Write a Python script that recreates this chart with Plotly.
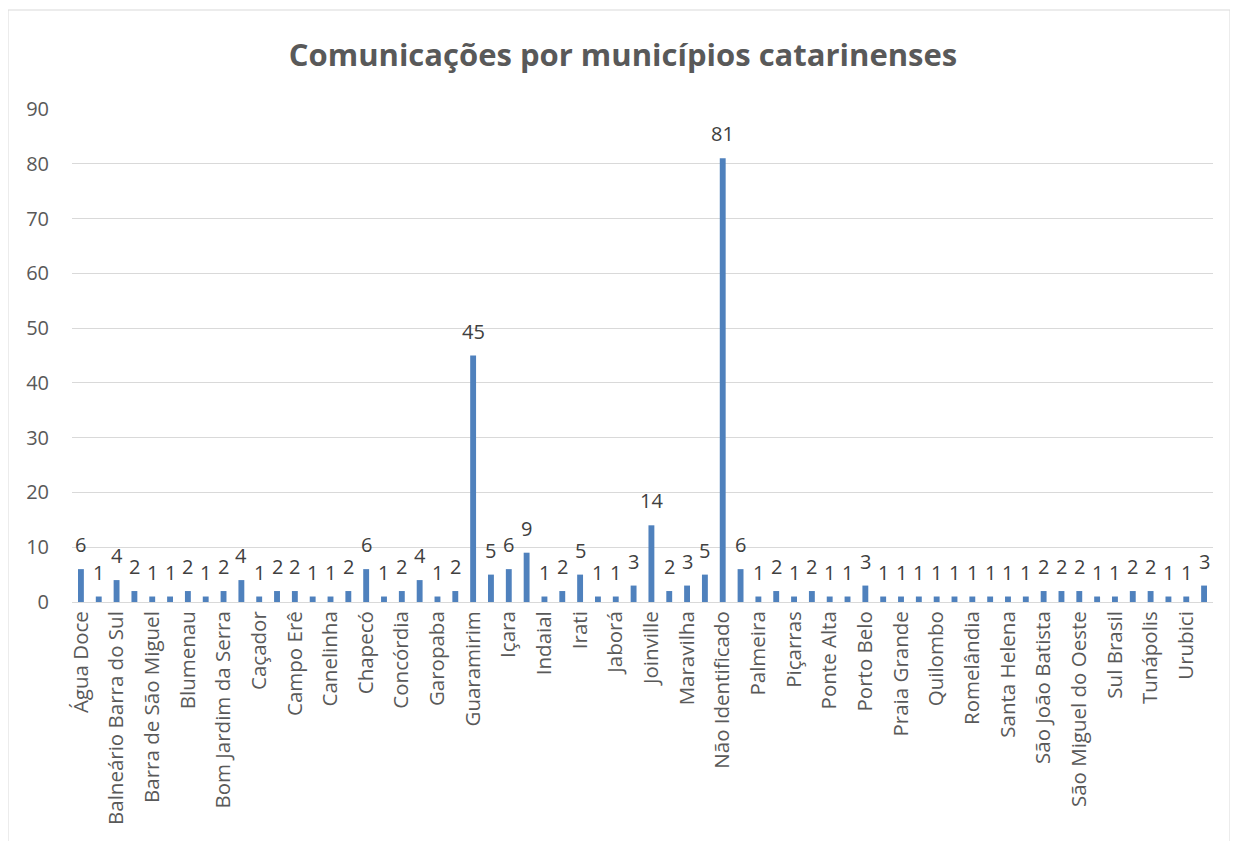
import plotly.graph_objects as go

municipios = [
    "Água Doce", "Araquari", "Balneário Barra do Sul", "Balneário Camboriú",
    "Barra de São Miguel", "Biguaçu", "Blumenau", "Bocaina do Sul",
    "Bom Jardim da Serra", "Brusque", "Caçador", "Camboriú",
    "Campo Erê", "Campos Novos", "Canelinha", "Capinzal",
    "Chapecó", "Cocal do Sul", "Concórdia", "Criciúma",
    "Garopaba", "Gaspar", "Guaramirim", "Herval d'Oeste",
    "Içara", "Imbituba", "Indaial", "Ipumirim",
    "Irati", "Itajaí", "Jaborá", "Jaraguá do Sul",
    "Joinville", "Lages", "Maravilha", "Modelo",
    "Não Identificado", "Navegantes", "Palmeira", "Penha",
    "Piçarras", "Pinhalzinho", "Ponte Alta", "Ponte Serrada",
    "Porto Belo", "Pouso Redondo", "Praia Grande", "Presidente Getúlio",
    "Quilombo", "Rio do Sul", "Romelândia", "Santa Cecília",
    "Santa Helena", "São Bento do Sul", "São João Batista", "São José",
    "São Miguel do Oeste", "Seara", "Sul Brasil", "Timbó",
    "Tunápolis", "Turvo", "Urubici", "Xanxerê",
]

comunicacoes = [
    6, 1, 4, 2, 1, 1, 2, 1,
    2, 4, 1, 2, 2, 1, 1, 2,
    6, 1, 2, 4, 1, 2, 45, 5,
    6, 9, 1, 2, 5, 1, 1, 3,
    14, 2, 3, 5, 81, 6, 1, 2,
    1, 2, 1, 1, 3, 1, 1, 1,
    1, 1, 1, 1, 1, 1, 2, 2,
    2, 1, 1, 2, 2, 1, 1, 3,
]

# every other category label is shown on the axis
tick_labels = municipios[::2]

y_ticks = [0, 10, 20, 30, 40, 50, 60, 70, 80, 90]

FONT = "Open Sans"
GRAY = "#595959"

fig = go.Figure(
    go.Bar(
        x=municipios,
        y=comunicacoes,
        marker=dict(color="#4F81BD", line=dict(width=0)),
        cliponaxis=False,
    )
)

# data labels placed above each bar through the axes' scales
for m, v in zip(municipios, comunicacoes):
    fig.add_annotation(
        x=m,
        y=v,
        xref="x",
        yref="y",
        text=str(v),
        showarrow=False,
        yanchor="bottom",
        yshift=9,
        font=dict(family=FONT, size=20, color="#404040"),
    )

# figure is offset 8px by the page body margin
W, H = 1230, 833
ml, mr, mt, mb = 64, 25, 101, 239
pw = W - ml - mr
ph = H - mt - mb

fig.update_layout(
    width=W,
    height=H,
    margin=dict(l=ml, r=mr, t=mt, b=mb),
    paper_bgcolor="white",
    plot_bgcolor="white",
    bargap=0.67,
    showlegend=False,
    title=dict(
        text="<b>Comunicações por municípios catarinenses</b>",
        x=0.5,
        xanchor="center",
        y=1 - 47 / H,
        yanchor="middle",
        font=dict(family=FONT, size=31, color=GRAY),
    ),
    font=dict(family=FONT, color=GRAY),
    xaxis=dict(
        type="category",
        tickmode="array",
        tickvals=tick_labels,
        ticktext=tick_labels,
        tickangle=-90,
        tickfont=dict(family=FONT, size=20.5, color=GRAY),
        showgrid=False,
        showline=True,
        linecolor="#d9d9d9",
        linewidth=1,
        ticks="",
        ticklen=0,
    ),
    yaxis=dict(
        range=[0, 90],
        tickvals=y_ticks,
        tickfont=dict(family=FONT, size=20, color=GRAY),
        showgrid=True,
        gridcolor="#d9d9d9",
        gridwidth=1,
        zeroline=False,
        showline=False,
        ticks="",
        ticklabelstandoff=22,
    ),
    shapes=[
        dict(
            type="rect",
            xref="paper",
            yref="paper",
            x0=(0 - ml) / pw,
            x1=(1222 - ml) / pw,
            y0=(H - mb - (H + 20)) / ph,
            y1=(H - mb - 2) / ph,
            line=dict(color="#d9d9d9", width=1),
            fillcolor="rgba(0,0,0,0)",
            layer="below",
        )
    ],
)

fig.write_html("out.html")
